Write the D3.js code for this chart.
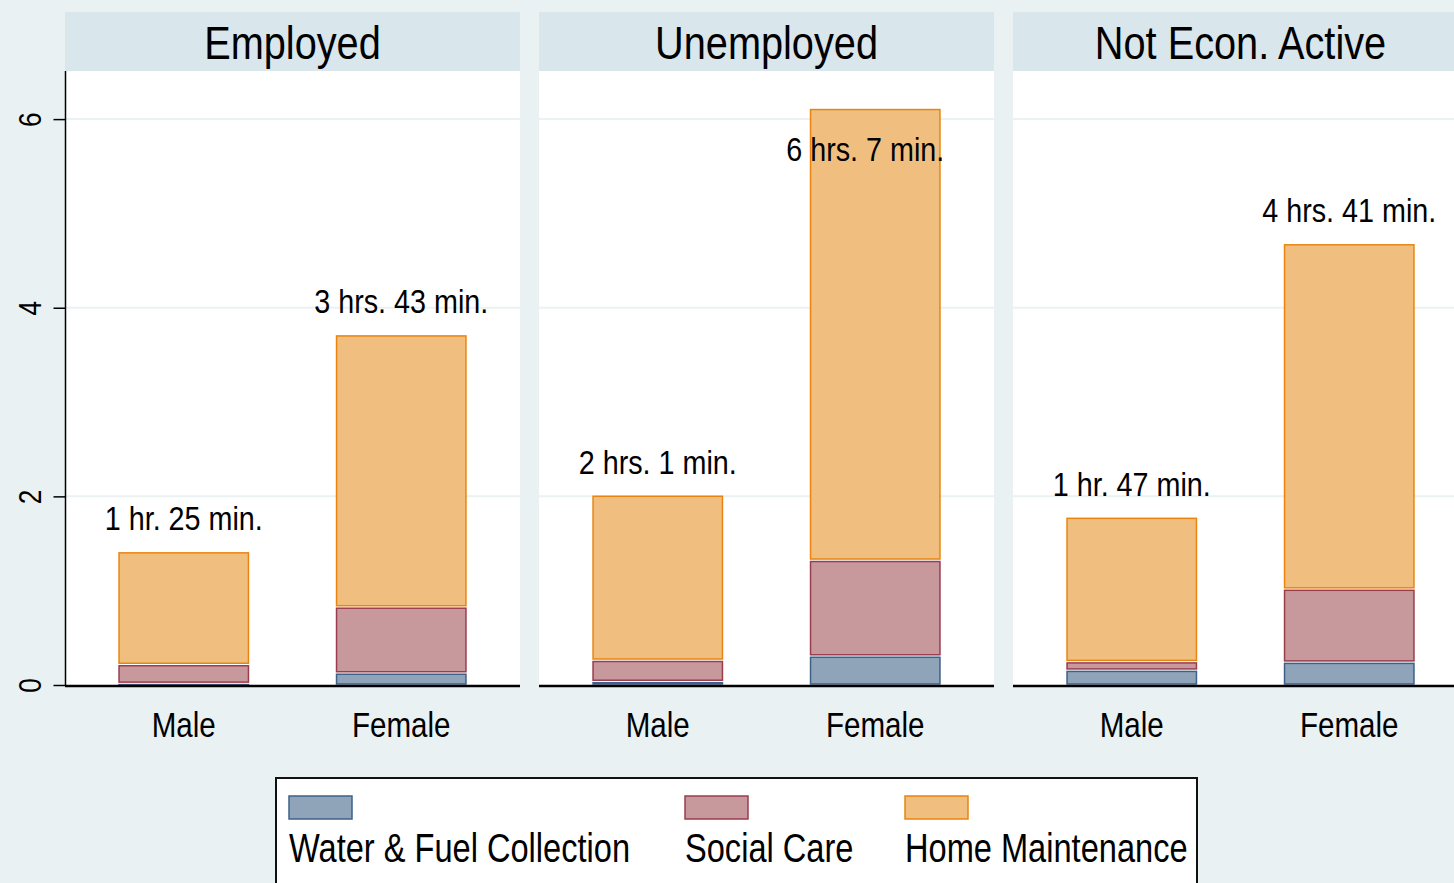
<!DOCTYPE html>
<html><head><meta charset="utf-8">
<script src="https://cdn.jsdelivr.net/npm/d3@7"></script>
<style>
html,body{margin:0;padding:0;background:#eaf1f3;}
svg{display:block;}
text{font-family:"Liberation Sans Narrow","Arial Narrow","Liberation Sans",sans-serif;fill:#000;}
</style></head>
<body>
<svg id="chart" width="1454" height="883"></svg>
<script>
// ---- data ----
const panels = ["Employed", "Unemployed", "Not Econ. Active"];
const sexes = ["Male", "Female"];
const seriesNames = ["Water & Fuel Collection", "Social Care", "Home Maintenance"];
// hours, per panel, order Male, Female
const water  = [[0.02, 0.13], [0.04, 0.31], [0.16, 0.245]];
const social = [[0.20, 0.70], [0.225, 1.015], [0.09, 0.775]];
const home   = [[1.197, 2.887], [1.752, 4.792], [1.533, 3.663]];
const totalLabels = [["1 hr. 25 min.", "3 hrs. 43 min."], ["2 hrs. 1 min.", "6 hrs. 7 min."], ["1 hr. 47 min.", "4 hrs. 41 min."]];
const yTicks = [0, 2, 4, 6];

const fills   = ["#8fa4b8", "#c8999c", "#f0bf80"];
const strokes = ["#3e6089", "#9a3d4d", "#e9850f"];

const NARROW = 0.845;
function txt(g, x, y, size, anchor, s, sc) {
  return g.append("text")
    .attr("transform", `translate(${x},${y}) scale(${sc || NARROW},1)`)
    .attr("text-anchor", anchor).attr("font-size", size).text(s);
}

const svg = d3.select("#chart");
const plotTop = 71, plotBottom = 685;

const y = d3.scaleLinear().domain([0, 6.51]).range([plotBottom, plotTop]);
const px = d3.scaleBand().domain(panels).range([65, 1468]).paddingInner(19/474).paddingOuter(0);
const bx = d3.scaleBand().domain(sexes).range([0, px.bandwidth()]).paddingInner(0.398).paddingOuter(0.245);

const seriesData = [water, social, home];

panels.forEach((p, pi) => {
  const g = svg.append("g").attr("transform", `translate(${px(p)},0)`);
  const w = px.bandwidth();
  // title strip
  g.append("rect").attr("x", 0).attr("y", 12).attr("width", w).attr("height", plotTop - 12).attr("fill", "#d9e6ec");
  txt(g, w/2, 59, 47, "middle", p);
  // plot area
  g.append("rect").attr("x", 0).attr("y", plotTop).attr("width", w).attr("height", plotBottom - plotTop).attr("fill", "#fff");
  // gridlines
  g.selectAll(".grid").data(yTicks.filter(t => t > 0)).join("line")
    .attr("x1", 0).attr("x2", w).attr("y1", d => y(d)).attr("y2", d => y(d))
    .attr("stroke", "#eaf2f4").attr("stroke-width", 2);

  // bars
  sexes.forEach((s, si) => {
    let base = 0;
    const x0 = bx(s), bw = bx.bandwidth();
    seriesData.forEach((ser, k) => {
      const v = ser[pi][si];
      const top = base + v;
      const yTop = y(top), yBot = y(base);
      const h = Math.max(yBot - yTop - 2.5, 0.8);
      g.append("rect")
        .attr("x", x0 + 0.75).attr("y", yTop + 1.5)
        .attr("width", bw - 1.5).attr("height", h)
        .attr("fill", fills[k]).attr("stroke", strokes[k]).attr("stroke-width", 1.5);
      base = top;
    });
    // total label
    const total = base;
    const inside = (y(total) - 21 < plotTop + 40);
    const ly = inside ? y(total) + 53 : y(total) - 21;
    txt(g, x0 + bw/2 - (inside ? 10 : 0), ly, 34, "middle", totalLabels[pi][si]);
    // x category label
    txt(g, x0 + bw/2, 737, 35, "middle", s);
  });
  // x axis line
  g.append("line").attr("x1", 0).attr("x2", w).attr("y1", plotBottom + 1).attr("y2", plotBottom + 1)
    .attr("stroke", "#000").attr("stroke-width", 2.5);
});

// y axis
const yAxisG = svg.append("g").attr("transform", "translate(65.5,0)")
  .call(d3.axisLeft(y).tickValues(yTicks).tickSize(12).tickPadding(10).tickFormat(d3.format("d")));
yAxisG.select(".domain").attr("stroke", "#000").attr("stroke-width", 1.5).attr("d", `M0,${plotTop}V${plotBottom}`);
yAxisG.selectAll(".tick line").attr("stroke", "#000").attr("stroke-width", 1.5);
yAxisG.selectAll(".tick text")
  .attr("font-size", 31).attr("x", null).attr("dy", null)
  .attr("text-anchor", "middle").attr("fill", "#000")
  .attr("transform", `translate(-25,0) rotate(-90) scale(${NARROW},1)`)
  .style("font-family", '"Liberation Sans Narrow","Liberation Sans",sans-serif');

// legend
const lg = svg.append("g");
lg.append("rect").attr("x", 276).attr("y", 778).attr("width", 921).attr("height", 130)
  .attr("fill", "#fff").attr("stroke", "#111").attr("stroke-width", 2);
const legX = [289, 685, 905];
seriesNames.forEach((n, k) => {
  lg.append("rect").attr("x", legX[k]).attr("y", 796).attr("width", 63).attr("height", 23)
    .attr("fill", fills[k]).attr("stroke", strokes[k]).attr("stroke-width", 1.5);
  txt(lg, legX[k], 862, 40, "start", n, 0.815);
});
</script>
</body></html>
